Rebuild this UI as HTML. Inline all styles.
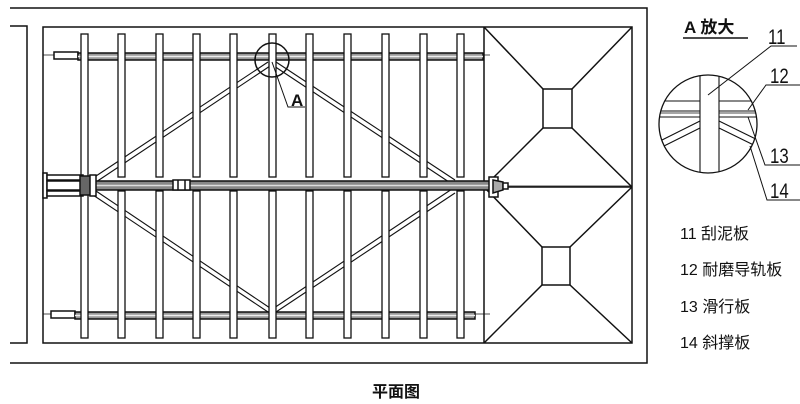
<!DOCTYPE html>
<html><head><meta charset="utf-8"><style>
html,body{margin:0;padding:0;background:#fff;width:800px;height:404px;overflow:hidden}
svg{display:block}
text{font-family:"Liberation Sans","Noto Sans CJK SC",sans-serif;fill:#111}
</style></head><body>
<svg width="800" height="404" viewBox="0 0 800 404" xmlns="http://www.w3.org/2000/svg">
<g stroke="#111" fill="none" stroke-width="1.5">
<!-- outer tank -->
<polyline points="10,8 647,8 647,363 10,363"/>
<polyline points="10,26 27,26 27,343 10,343"/>
<rect x="43" y="27" width="589" height="316"/>
<line x1="484" y1="27" x2="484" y2="343"/>
<line x1="484" y1="187" x2="632" y2="187"/>
<!-- hoppers -->
<rect x="543" y="89" width="29" height="39"/>
<line x1="484" y1="27" x2="543" y2="89"/><line x1="632" y1="27" x2="572" y2="89"/>
<line x1="484" y1="187" x2="543" y2="128"/><line x1="632" y1="187" x2="572" y2="128"/>
<rect x="542" y="247" width="28" height="38"/>
<line x1="484" y1="187" x2="542" y2="247"/><line x1="632" y1="187" x2="570" y2="247"/>
<line x1="484" y1="343" x2="542" y2="285"/><line x1="632" y1="343" x2="570" y2="285"/>
<!-- rails -->
<line x1="43" y1="55" x2="490" y2="55" stroke-width="0.8"/>
<rect x="54" y="52" width="24" height="7" fill="#fff"/>
<rect x="78" y="53" width="405" height="7" fill="#999"/>
<line x1="78" y1="56.5" x2="483" y2="56.5" stroke="#eee"/>
<line x1="43" y1="314" x2="490" y2="314" stroke-width="0.8"/>
<rect x="51" y="311" width="24" height="7" fill="#fff"/>
<rect x="75" y="312" width="400" height="7" fill="#999"/>
<line x1="75" y1="315.5" x2="475" y2="315.5" stroke="#eee"/>
<!-- diagonals (double lines) -->
<g stroke-width="1.1">
<line x1="93" y1="178" x2="268" y2="62"/><line x1="96" y1="182" x2="270" y2="66"/>
<line x1="276" y1="62" x2="455" y2="180"/><line x1="274" y1="66" x2="452" y2="184"/>
<line x1="93" y1="195" x2="268" y2="312"/><line x1="96" y1="191" x2="270" y2="308"/>
<line x1="276" y1="312" x2="455" y2="193"/><line x1="274" y1="308" x2="452" y2="189"/>
</g>
<!-- vertical scraper bars -->
<g fill="#fff" stroke-width="1.3">
<rect x="81" y="34" width="7" height="143"/><rect x="81" y="191" width="7" height="147"/>
<rect x="118" y="34" width="7" height="143"/><rect x="118" y="191" width="7" height="147"/>
<rect x="156" y="34" width="7" height="143"/><rect x="156" y="191" width="7" height="147"/>
<rect x="193" y="34" width="7" height="143"/><rect x="193" y="191" width="7" height="147"/>
<rect x="230" y="34" width="7" height="143"/><rect x="230" y="191" width="7" height="147"/>
<rect x="269" y="34" width="7" height="143"/><rect x="269" y="191" width="7" height="147"/>
<rect x="306" y="34" width="7" height="143"/><rect x="306" y="191" width="7" height="147"/>
<rect x="344" y="34" width="7" height="143"/><rect x="344" y="191" width="7" height="147"/>
<rect x="382" y="34" width="7" height="143"/><rect x="382" y="191" width="7" height="147"/>
<rect x="420" y="34" width="7" height="143"/><rect x="420" y="191" width="7" height="147"/>
<rect x="457" y="34" width="7" height="143"/><rect x="457" y="191" width="7" height="147"/>
</g>
<!-- centre shaft -->
<rect x="95" y="181" width="395" height="9" fill="#888"/>
<line x1="95" y1="185.5" x2="490" y2="185.5" stroke="#ddd"/>
<line x1="490" y1="186" x2="632" y2="186" stroke-width="0.8"/>
<rect x="173" y="180" width="17" height="10" fill="#fff"/>
<line x1="178" y1="180" x2="178" y2="190"/><line x1="185" y1="180" x2="185" y2="190"/>
<!-- drive head left -->
<rect x="43" y="173" width="4" height="25" fill="#fff"/>
<rect x="47" y="175" width="36" height="5" fill="#fff"/>
<rect x="47" y="191" width="36" height="5" fill="#fff"/>
<rect x="47" y="181" width="40" height="9" fill="#fff"/>
<rect x="80" y="176" width="14" height="19" fill="#666"/>
<rect x="90" y="175" width="6" height="21" fill="#fff"/>
<!-- drive head right -->
<rect x="489" y="177" width="9" height="20" fill="#fff"/>
<path d="M493,180 L503,182 L503,190 L493,193 Z" fill="#aaa"/>
<rect x="503" y="183" width="5" height="6" fill="#fff"/>
<!-- A mark -->
<circle cx="272" cy="60" r="17"/>
<polyline points="272,62 288,107 305,107" stroke-width="1"/>
</g>
<text x="291" y="106" font-size="17" font-weight="bold" font-family="Liberation Serif,serif">A</text>

<!-- detail view -->
<g stroke="#111" fill="none" stroke-width="1.3">
<clipPath id="c"><circle cx="708" cy="124" r="49"/></clipPath>
<g clip-path="url(#c)" stroke-width="1.1">
<line x1="650" y1="101" x2="770" y2="101"/>
<line x1="650" y1="111" x2="770" y2="111"/>
<line x1="650" y1="113" x2="770" y2="113" stroke="#888" stroke-width="1.5"/>
<line x1="650" y1="117" x2="770" y2="117"/>
<line x1="700" y1="121" x2="650" y2="146"/><line x1="700" y1="128" x2="650" y2="153"/>
<line x1="719" y1="121" x2="770" y2="146"/><line x1="719" y1="128" x2="770" y2="153"/>
<rect x="700" y="70" width="19" height="110" fill="#fff"/>
</g>
<circle cx="708" cy="124" r="49"/>
<polyline points="708,95 771,46 797,46" stroke-width="1"/>
<polyline points="748,110 766,85 800,85" stroke-width="1"/>
<polyline points="748,117 765,165 800,165" stroke-width="1"/>
<polyline points="750,146 767,200 800,200" stroke-width="1"/>
<line x1="683" y1="38" x2="748" y2="38" stroke-width="1.5"/>
</g>
<text x="684" y="33" font-size="17" font-weight="bold" font-family="Liberation Serif,'Noto Serif CJK SC',serif">A 放大</text>
<text x="768" y="44" font-size="21" font-family="Liberation Serif,serif" transform="translate(768,44) scale(0.8,1) translate(-768,-44)">11</text>
<text x="770" y="83" font-size="21" font-family="Liberation Serif,serif" transform="translate(770,83) scale(0.8,1) translate(-770,-83)">12</text>
<text x="770" y="163" font-size="21" font-family="Liberation Serif,serif" transform="translate(770,163) scale(0.8,1) translate(-770,-163)">13</text>
<text x="770" y="198" font-size="21" font-family="Liberation Serif,serif" transform="translate(770,198) scale(0.8,1) translate(-770,-198)">14</text>

<g font-size="16">
<text x="680" y="239">11  刮泥板</text>
<text x="680" y="275">12  耐磨导轨板</text>
<text x="680" y="312">13  滑行板</text>
<text x="680" y="348">14  斜撑板</text>
</g>
<text x="372" y="397" font-size="16" font-weight="bold">平面图</text>
</svg>
</body></html>
